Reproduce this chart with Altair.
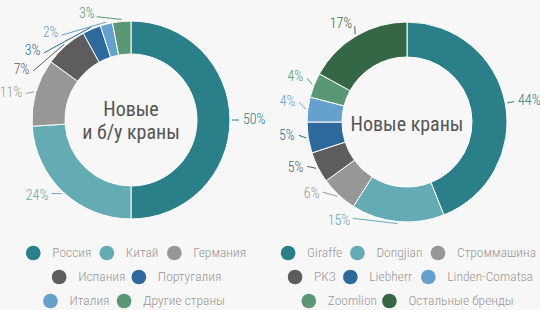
import altair as alt
import pandas as pd

# ---- data ----
left_labels = ["Россия", "Китай", "Германия", "Испания", "Португалия", "Италия", "Другие страны"]
left_values = [50, 24, 11, 7, 3, 2, 3]
right_labels = ["Giraffe", "Dongjian", "Строммашина", "РКЗ", "Liebherr", "Linden-Comatsa", "Zoomlion", "Остальные бренды"]
right_values = [44, 15, 6, 5, 5, 4, 4, 17]

# ---- styles / layout ----
left_colors = ["#2a7f88", "#64abb3", "#979797", "#5d5d5f", "#2d6a9b", "#66a0cd", "#5a9774"]
right_colors = ["#2a7f88", "#64abb3", "#979797", "#5d5d5f", "#2d6a9b", "#66a0cd", "#5a9774", "#356747"]
left_nudge = [0, 4, -2, -22, -29, -25, -13]
right_nudge = [0, 24, 7, 3, 2, 3, 2, 2]
left_rows = [0, 0, 0, 1, 1, 2, 2]
right_rows = [0, 0, 0, 1, 1, 1, 2, 2]
FONT = "Roboto Condensed, Roboto"
BG = "#f7f7f7"
TXT = "#555555"
W, H = 540, 310

keys_all = ["L" + s for s in left_labels] + ["R" + s for s in right_labels]
colors_all = left_colors + right_colors
color = alt.Color("key:N", scale=alt.Scale(domain=keys_all, range=colors_all), legend=None)
px = lambda f: alt.X(f, type="quantitative", scale=None, axis=None)
py = lambda f: alt.Y(f, type="quantitative", scale=None, axis=None)


def panel(prefix, labels, values, nudges, rows, cx, cy, r_in, r_out, title, title_dy, legend_cx):
    n = len(labels)
    df = pd.DataFrame({"label": labels, "key": [prefix + s for s in labels], "value": values,
                       "i": list(range(n)), "nudge": nudges, "row": rows})
    base = alt.Chart(df)

    arcs = base.mark_arc(innerRadius=r_in, outerRadius=r_out, stroke="#ffffff", strokeWidth=1).encode(
        theta=alt.Theta("value:Q", stack=True),
        order=alt.Order("i:Q"),
        color=color,
        x=alt.value(cx), y=alt.value(cy),
    )

    R = r_out + 12
    geo = base.transform_window(
        cum="sum(value)", sort=[alt.SortField("i")]
    ).transform_joinaggregate(total="sum(value)").transform_calculate(
        mid="(datum.cum - datum.value/2)/datum.total*2*PI",
        la="datum.mid + datum.nudge*PI/180",
        rr=f"{R} + 2*abs(datum.nudge)/30",
        lx=f"{cx} + datum.rr*sin(datum.la)",
        ly=f"{cy} - datum.rr*cos(datum.la)",
        ax=f"{cx} + {r_out + 2}*sin(datum.mid)",
        ay=f"{cy} - {r_out + 2}*cos(datum.mid)",
        bx=f"{cx} + (datum.rr - 3)*sin(datum.la)",
        by=f"{cy} - (datum.rr - 3)*cos(datum.la)",
        pct="datum.value + '%'",
        side="sin(datum.la) >= 0 ? 'r' : 'l'",
    )
    leaders = geo.mark_rule(strokeWidth=1).encode(
        x=px("ax"), y=py("ay"), x2="bx:Q", y2="by:Q", color=color)
    lab_r = geo.transform_filter("datum.side == 'r'").mark_text(
        align="left", baseline="middle", font=FONT, fontSize=14, fontWeight=300, dx=1).encode(
        x=px("lx"), y=py("ly"), text="pct:N", color=color)
    lab_l = geo.transform_filter("datum.side == 'l'").mark_text(
        align="right", baseline="middle", font=FONT, fontSize=14, fontWeight=300, dx=-1).encode(
        x=px("lx"), y=py("ly"), text="pct:N", color=color)

    center = alt.Chart(pd.DataFrame({"t": [title]})).mark_text(
        font=FONT, fontSize=20, color=TXT, align="center", baseline="middle", lineHeight=23
    ).encode(text="t:N", x=alt.value(cx), y=alt.value(cy + title_dy))

    K, GAP, CIR = 6.1, 10, 27
    leg = base.transform_calculate(
        narrow="length(datum.label) - length(replace(datum.label, regexp('[ilfjrtI\\\\-]', 'g'), ''))",
        wide="length(datum.label) - length(replace(datum.label, regexp('[мшщжюыДМШЩЖЮ]', 'g'), ''))",
    ).transform_calculate(
        w=f"length(datum.label)*{K} - datum.narrow*2.6 + datum.wide*2.6 + {CIR} + {GAP}"
    ).transform_window(
        lc="sum(w)", groupby=["row"], sort=[alt.SortField("i")]
    ).transform_joinaggregate(
        rt="sum(w)", groupby=["row"]
    ).transform_calculate(
        sx=f"{legend_cx} - (datum.rt - {GAP})/2 + datum.lc - datum.w",
        cxp="datum.sx + 8",
        tx=f"datum.sx + {CIR}",
        ry="253 + datum.row*24",
    )
    dots = leg.mark_circle(size=215, opacity=1).encode(x=px("cxp"), y=py("ry"), color=color)
    names = leg.mark_text(align="left", baseline="middle", font=FONT, fontSize=13.5, fontWeight=300,
                          color="#9a9696").encode(x=px("tx"), y=py("ry"), text="label:N")

    return [arcs, leaders, lab_r, lab_l, center, dots, names]


layers = panel("L", left_labels, left_values, left_nudge, left_rows,
               131, 120, 66, 99, ["Новые", "и б/у краны"], -10, 135)
layers += panel("R", right_labels, right_values, right_nudge, right_rows,
                407, 122, 65, 100, "Новые краны", 3, 406)

chart = alt.layer(*layers).properties(
    width=W, height=H, padding=0, background=BG,
    autosize=alt.AutoSizeParams(type="none"),
).configure_view(stroke=None)

chart.save("out.html", embed_options={"renderer": "svg", "actions": False})
